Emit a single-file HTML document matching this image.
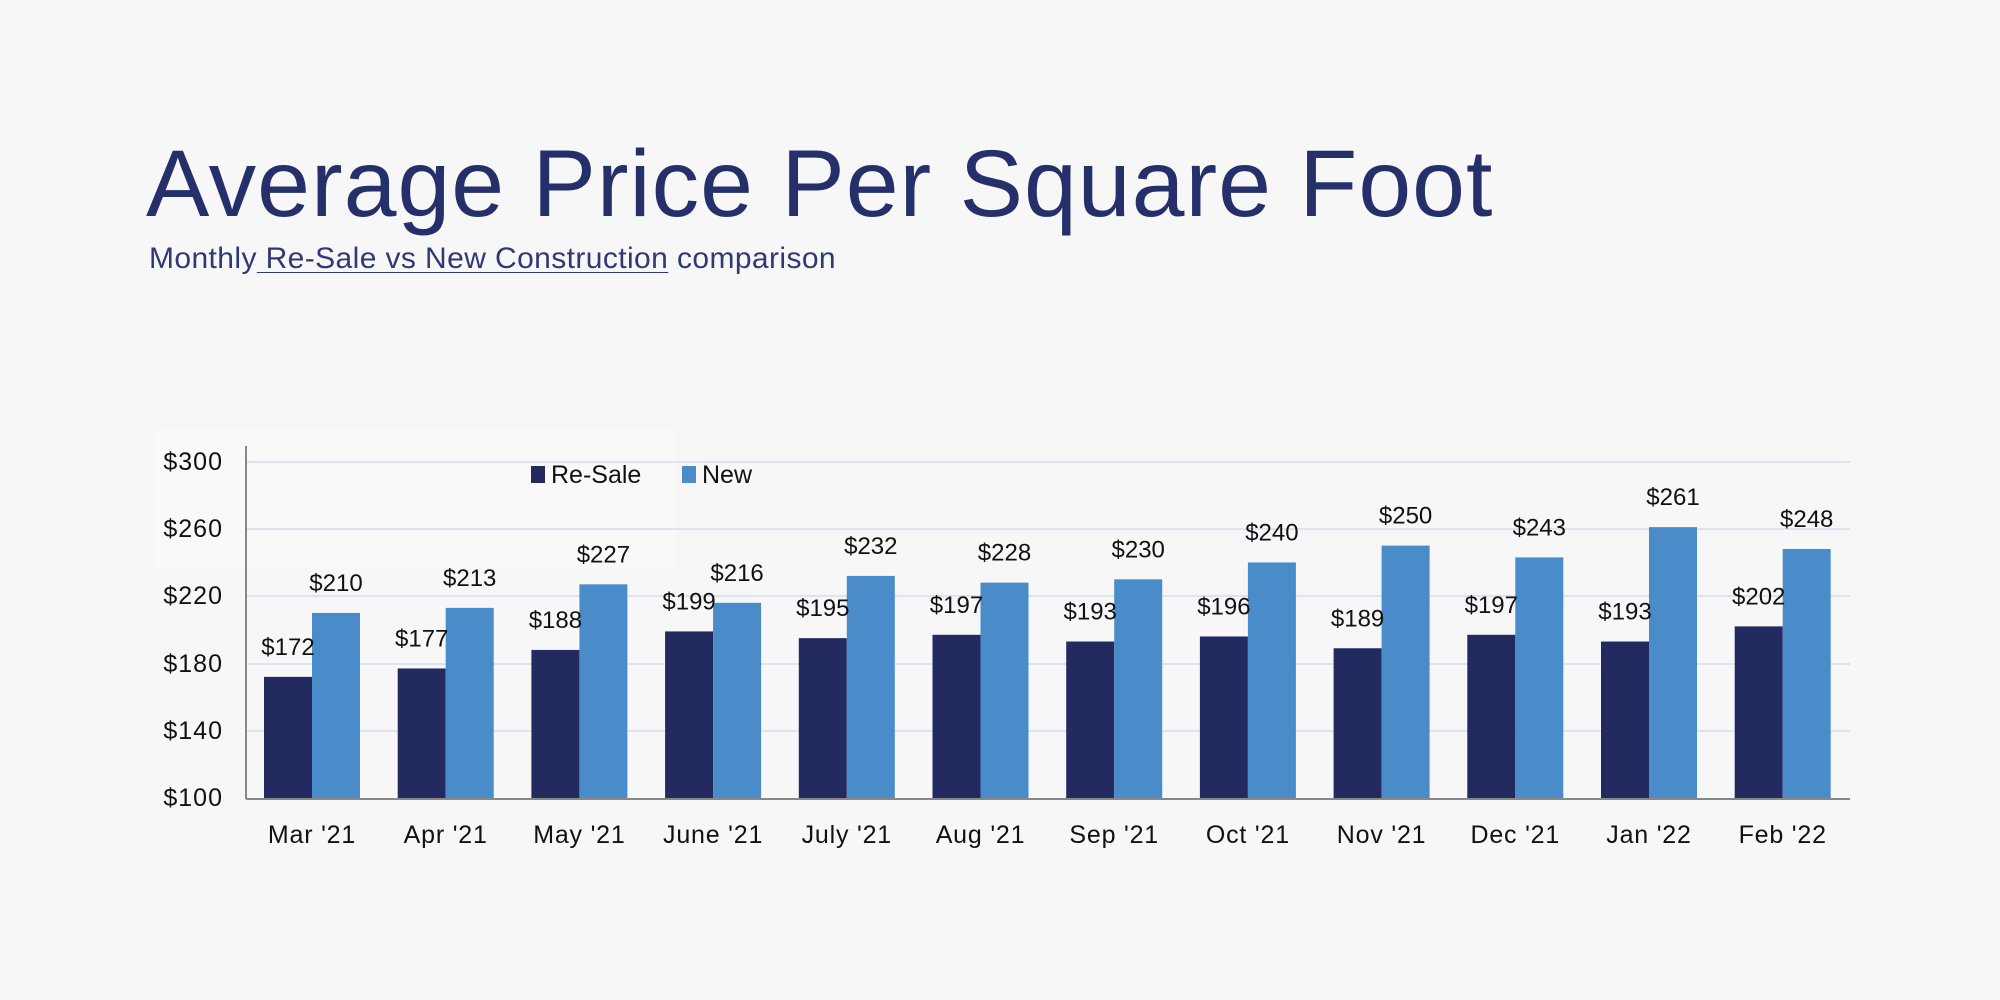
<!DOCTYPE html>
<html><head><meta charset="utf-8"><style>
html,body{margin:0;padding:0;background:#f7f7f7;}
body{width:2000px;height:1000px;overflow:hidden;position:relative;font-family:"Liberation Sans",sans-serif;}
.t{position:absolute;left:146px;top:130px;font-size:95px;color:#25306b;letter-spacing:1px;white-space:nowrap;}
.s{position:absolute;left:149px;top:242px;font-size:30px;color:#2f3a75;white-space:nowrap;letter-spacing:0.4px;}
.s u{text-decoration:underline;text-decoration-thickness:1px;text-underline-offset:4px;}
svg{position:absolute;left:0;top:0;}
</style></head><body>
<div class="t">Average Price Per Square Foot</div>
<div class="s">Monthly<u> Re-Sale vs New Construction</u> comparison</div>
<svg width="2000" height="1000" font-family="Liberation Sans, sans-serif">
<rect x="155" y="428" width="520" height="140" fill="#f9f9f9"/>
<g stroke="#dde3f2" stroke-width="2">
<line x1="246" x2="1850" y1="462" y2="462"/>
<line x1="246" x2="1850" y1="529" y2="529"/>
<line x1="246" x2="1850" y1="596" y2="596"/>
<line x1="246" x2="1850" y1="664" y2="664"/>
<line x1="246" x2="1850" y1="731" y2="731"/>
</g>
<g font-size="25" fill="#111" text-anchor="end" letter-spacing="1">
<text x="223" y="470">$300</text><text x="223" y="537">$260</text><text x="223" y="604">$220</text>
<text x="223" y="672">$180</text><text x="223" y="739">$140</text><text x="223" y="806">$100</text>
</g>
<g id="bars"></g>
<line x1="246" x2="246" y1="446" y2="799" stroke="#888" stroke-width="2"/>
<line x1="246" x2="1850" y1="799" y2="799" stroke="#888" stroke-width="2"/>
<rect x="531" y="466" width="14" height="17" fill="#222a60"/>
<text x="551" y="483" font-size="25" fill="#111">Re-Sale</text>
<rect x="682" y="466" width="14" height="17" fill="#4a8cc9"/>
<text x="702" y="483" font-size="25" fill="#111">New</text>
</svg>
<script>
const r=[172,177,188,199,195,197,193,196,189,197,193,202];
const n=[210,213,227,216,232,228,230,240,250,243,261,248];
const m=["Mar '21","Apr '21","May '21","June '21","July '21","Aug '21","Sep '21","Oct '21","Nov '21","Dec '21","Jan '22","Feb '22"];
const y=v=>798-(v-100)*1.6825;
let h="";
for(let i=0;i<12;i++){
 const s=246+i*133.7;
 const a=s+18, b=s+66;
 h+=`<rect x="${a}" y="${y(r[i])}" width="48" height="${798-y(r[i])}" fill="#222a60"/>`;
 h+=`<rect x="${b}" y="${y(n[i])}" width="48" height="${798-y(n[i])}" fill="#4a8cc9"/>`;
 h+=`<text x="${a+24}" y="${y(r[i])-22}" font-size="24" text-anchor="middle" fill="#111">$${r[i]}</text>`;
 h+=`<text x="${b+24}" y="${y(n[i])-22}" font-size="24" text-anchor="middle" fill="#111">$${n[i]}</text>`;
 h+=`<text x="${s+66}" y="843" font-size="25" letter-spacing="0.8" text-anchor="middle" fill="#111">${m[i]}</text>`;
}
document.getElementById("bars").innerHTML=h;
</script>
</body></html>
